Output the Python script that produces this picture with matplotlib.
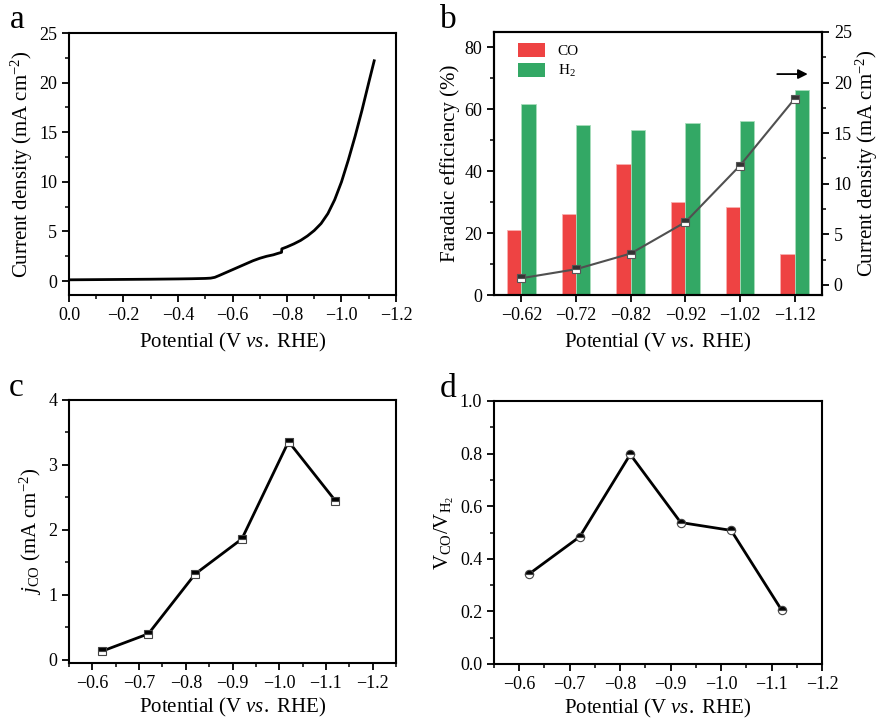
import matplotlib
matplotlib.use("Agg")
import matplotlib.pyplot as plt
from matplotlib.ticker import MultipleLocator
from matplotlib.patches import Patch
import numpy as np

plt.rcParams["font.family"] = ["Liberation Serif", "DejaVu Serif"]
plt.rcParams["mathtext.fontset"] = "custom"
plt.rcParams["mathtext.rm"] = "Liberation Serif"
plt.rcParams["mathtext.it"] = "Liberation Serif:italic"
plt.rcParams["axes.linewidth"] = 1.5
plt.rcParams["xtick.major.width"] = 1.3
plt.rcParams["ytick.major.width"] = 1.3
plt.rcParams["xtick.minor.width"] = 1.1
plt.rcParams["ytick.minor.width"] = 1.1
plt.rcParams["xtick.major.size"] = 5
plt.rcParams["ytick.major.size"] = 5
plt.rcParams["xtick.minor.size"] = 3
plt.rcParams["ytick.minor.size"] = 3
plt.rcParams["xtick.labelsize"] = 13
plt.rcParams["ytick.labelsize"] = 13

# (a) LSV curve
lsv_v = [0.0, -0.1, -0.2, -0.3, -0.4, -0.45, -0.5, -0.52, -0.535, -0.55, -0.575,
         -0.6, -0.625, -0.65, -0.675, -0.7, -0.725, -0.75, -0.765, -0.78, -0.781,
         -0.8, -0.825, -0.85, -0.875, -0.9, -0.925, -0.95, -0.975, -1.0, -1.025,
         -1.05, -1.075, -1.1, -1.12]
lsv_j = [0.13, 0.15, 0.17, 0.19, 0.22, 0.24, 0.27, 0.3, 0.38, 0.55, 0.85,
         1.15, 1.45, 1.75, 2.05, 2.3, 2.5, 2.65, 2.78, 2.9, 3.25,
         3.45, 3.75, 4.1, 4.55, 5.1, 5.8, 6.8, 8.2, 10.0, 12.2,
         14.6, 17.2, 20.0, 22.2]

# (b) Faradaic efficiency and total current density
potentials = ["\u22120.62", "\u22120.72", "\u22120.82", "\u22120.92", "\u22121.02", "\u22121.12"]
fe_co = [21.1, 26.3, 42.3, 29.9, 28.5, 13.4]
fe_h2 = [61.7, 54.8, 53.3, 55.6, 56.3, 66.2]
j_total = [0.66, 1.55, 3.1, 6.2, 11.8, 18.4]

# (c) partial CO current density and (d) CO/H2 ratio
pot_num = [-0.62, -0.72, -0.82, -0.92, -1.02, -1.12]
j_co = [0.13, 0.40, 1.32, 1.86, 3.36, 2.45]
ratio = [0.343, 0.484, 0.797, 0.538, 0.508, 0.205]

RED = "#EE4343"
GREEN = "#33A865"

W, H = 879, 722
fig = plt.figure(figsize=(W / 100, H / 100), dpi=100)


def box(l, r, t, b):
    return [l / W, (H - b) / H, (r - l) / W, (b - t) / H]


def style(ax):
    ax.tick_params(which="both", direction="out", top=False, right=False)


xlabel = "Potential (V $\\mathit{vs.}$ RHE)"
neg = plt.FuncFormatter(lambda v, p: f"{v:.1f}".replace("-", "\u2212"))

# ---- a
ax = fig.add_axes(box(69, 396, 33, 295))
ax.plot(lsv_v, lsv_j, color="black", lw=2)
ax.set_xlim(0, -1.2)
ax.set_ylim(-1.4, 25)
ax.xaxis.set_major_locator(MultipleLocator(0.2))
ax.xaxis.set_minor_locator(MultipleLocator(0.1))
ax.yaxis.set_major_locator(MultipleLocator(5))
ax.yaxis.set_minor_locator(MultipleLocator(2.5))
ax.xaxis.set_major_formatter(neg)
style(ax)
ax.set_xlabel(xlabel, fontsize=15, labelpad=5)
ax.set_ylabel("Current density (mA cm$^{-2}$)", fontsize=15, labelpad=3)

# ---- b
ax = fig.add_axes(box(494, 822, 32, 295))
x = np.arange(len(potentials))
bw = 0.26
ax.bar(x - bw / 2, fe_co, bw, color=RED, edgecolor="#F8B0B0", lw=0.6)
ax.bar(x + bw / 2, fe_h2, bw, color=GREEN, edgecolor="#A8DDBB", lw=0.6)
ax.set_xlim(-0.5, 5.5)
ax.set_ylim(0, 85)
ax.set_xticks(x)
ax.set_xticklabels(potentials)
ax.yaxis.set_major_locator(MultipleLocator(20))
ax.yaxis.set_minor_locator(MultipleLocator(10))
style(ax)
ax.tick_params(axis="x", which="minor", bottom=False)
ax.set_xlabel(xlabel, fontsize=15, labelpad=5)
ax.set_ylabel("Faradaic efficiency (%)", fontsize=15, labelpad=3)
handles = [Patch(facecolor=RED, edgecolor="none"), Patch(facecolor=GREEN, edgecolor="none")]
ax.legend(handles, ["CO", "H$_2$"], loc="upper left", frameon=False, fontsize=11,
          bbox_to_anchor=(0.04, 1.0), handlelength=1.8, handleheight=1.1,
          handletextpad=0.8, labelspacing=0.3, borderaxespad=0.3)
ax2 = ax.twinx()
ax2.plot(x, j_total, color="#505050", lw=1.5, marker="s", ms=6,
         fillstyle="top", markerfacecolor="#333333", markerfacecoloralt="white",
         markeredgecolor="#555555", markeredgewidth=0.8)
ax2.set_ylim(-1, 25)
ax2.yaxis.set_major_locator(MultipleLocator(5))
ax2.yaxis.set_minor_locator(MultipleLocator(2.5))
ax2.tick_params(which="both", direction="out")
ax2.set_ylabel("Current density (mA cm$^{-2}$)", fontsize=15, labelpad=1)
ax2.annotate("", xy=(0.965, 0.84), xytext=(0.855, 0.84), xycoords="axes fraction",
             arrowprops=dict(arrowstyle="-|>", color="black", lw=1.3, mutation_scale=14))

# ---- c
ax = fig.add_axes(box(69, 396, 400, 663))
ax.plot(pot_num, j_co, color="black", lw=2, marker="s", ms=6,
        fillstyle="top", markerfacecolor="black", markerfacecoloralt="white",
        markeredgecolor="#444444", markeredgewidth=0.8)
ax.set_xlim(-0.55, -1.25)
ax.set_ylim(-0.05, 4)
ax.xaxis.set_major_locator(MultipleLocator(0.1))
ax.xaxis.set_minor_locator(MultipleLocator(0.05))
ax.yaxis.set_major_locator(MultipleLocator(1))
ax.yaxis.set_minor_locator(MultipleLocator(0.5))
ax.xaxis.set_major_formatter(neg)
style(ax)
ax.set_xlabel(xlabel, fontsize=15, labelpad=3)
ax.set_ylabel("$j_{\\rm CO}$ (mA cm$^{-2}$)", fontsize=15, labelpad=3)

# ---- d
ax = fig.add_axes(box(494, 822, 401, 664))
ax.plot(pot_num, ratio, color="black", lw=2, marker="o", ms=6,
        fillstyle="top", markerfacecolor="black", markerfacecoloralt="white",
        markeredgecolor="#444444", markeredgewidth=0.8)
ax.set_xlim(-0.55, -1.2)
ax.set_ylim(0, 1.0)
ax.xaxis.set_major_locator(MultipleLocator(0.1))
ax.xaxis.set_minor_locator(MultipleLocator(0.05))
ax.yaxis.set_major_locator(MultipleLocator(0.2))
ax.yaxis.set_minor_locator(MultipleLocator(0.1))
ax.xaxis.set_major_formatter(neg)
style(ax)
ax.set_xlabel(xlabel, fontsize=15, labelpad=3)
ax.set_ylabel("V$_{\\rm CO}$/V$_{\\rm H_2}$", fontsize=15, labelpad=3)

# panel letters
for lab, px, py in [("a", 10, 28), ("b", 440, 28), ("c", 9, 396), ("d", 440, 397)]:
    fig.text(px / W, 1 - py / H, lab, fontsize=24, ha="left", va="baseline")

fig.savefig("out.png", dpi=100)
